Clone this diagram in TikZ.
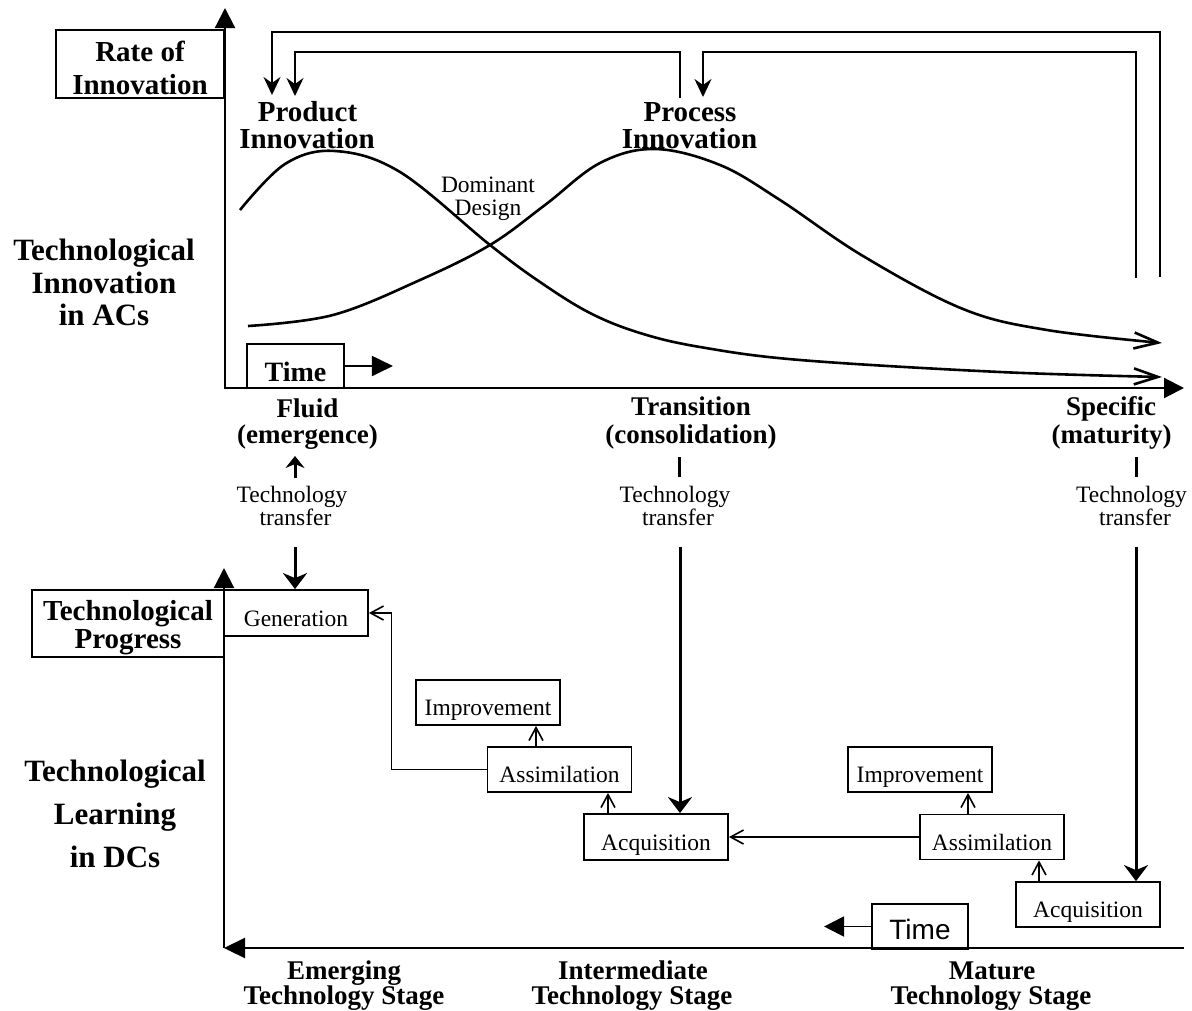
\documentclass[tikz,border=0pt]{standalone}
\usepackage{fontspec}
\setmainfont{Liberation Serif}
\newfontfamily\mysansfam{Liberation Sans}
\usetikzlibrary{arrows.meta}
\newcommand\mybig{\fontsize{29}{33}\selectfont\bfseries}
\newcommand\myleft{\fontsize{31}{33}\selectfont\bfseries}
\newcommand\mystage{\fontsize{27}{27}\selectfont\bfseries}
\newcommand\mysmall{\fontsize{23.5}{24}\selectfont}
\newcommand\mytimeA{\fontsize{28}{28}\selectfont\bfseries}
\newcommand\mytimeB{\mysansfam\fontsize{28}{28}\selectfont}
\begin{document}
\begin{tikzpicture}[x=1pt,y=-1pt,
  lab/.style={inner sep=0pt, anchor=base},
  boxed/.style={draw, line width=1.8pt, inner sep=0pt, minimum width=144pt, minimum height=45pt, text height=30pt, text depth=4pt, font=\mysmall},
  fb/.style={line width=1.9pt},
  thinc/.style={line width=1.6pt},
  axis/.style={line width=2.2pt},
  curve/.style={line width=2.6pt},
  tthick/.style={line width=3pt},
  tri/.tip={Triangle[length=20pt,width=20pt]},
  stl/.tip={Stealth[length=18pt,width=17pt,inset=6pt]},
  bigstl/.tip={Stealth[length=16pt,width=24pt,inset=5pt]},
  barb/.tip={Straight Barb[length=13pt,width=14pt]},
  cbarb/.tip={Straight Barb[length=24pt,width=16pt]}
]
\fill[white] (0,0) rectangle (1192,1010);
\useasboundingbox (0,0) rectangle (1192,1010);

% ---------- top axes ----------
\coordinate (taY) at (225,8);
\coordinate (ta0) at (225,388);
\coordinate (taX) at (1184,388);
\draw[axis, {tri}-{tri}] (taY) -- (ta0) -- (taX);

\node[draw, fb, minimum width=168pt, minimum height=68pt, inner sep=0pt] (rate) at (140,64) {};
\node[lab, font=\mybig] (rate1) at (140,61) {Rate of};
\node[lab, font=\mybig] (rate2) at (140,94) {Innovation};

\node[lab, font=\myleft] (tia) at (104,260) {Technological};
\node[lab, font=\myleft] (tib) at (104,293) {Innovation};
\node[lab, font=\myleft] (tic) at (104,325) {in ACs};

% feedback brackets
\coordinate (fa0) at (1160,277); \coordinate (fa1) at (1160,32);
\coordinate (fa2) at (272,32);   \coordinate (fa3) at (272,95);
\draw[fb, -{stl}] (fa0) -- (fa1) -- (fa2) -- (fa3);
\coordinate (fb0) at (680,98);  \coordinate (fb1) at (680,52);
\coordinate (fb2) at (295,52);  \coordinate (fb3) at (295,96);
\draw[fb, -{stl}] (fb0) -- (fb1) -- (fb2) -- (fb3);
\coordinate (fc0) at (1136,278); \coordinate (fc1) at (1136,52);
\coordinate (fc2) at (703,52);   \coordinate (fc3) at (703,97);
\draw[fb, -{stl}] (fc0) -- (fc1) -- (fc2) -- (fc3);

\node[lab, font=\mybig] (prod1) at (307.5,121) {Product};
\node[lab, font=\mybig] (prod2) at (307,148) {Innovation};
\node[lab, font=\mybig] (proc1) at (690,121) {Process};
\node[lab, font=\mybig] (proc2) at (689.5,148) {Innovation};

% curves
\draw[curve, -{cbarb}] plot[smooth, tension=0.6] coordinates {
 (240,210) (285,164) (335,151) (400,172) (490,245) (540,282)
 (590,313) (640,333) (700,347) (800,360) (1000,372) (1162,377)};
\draw[curve, -{cbarb}] plot[smooth, tension=0.6] coordinates {
 (248,326) (333,315) (420,280) (490,245) (545,205) (600,163)
 (655,149) (720,165) (780,200) (863,256) (963,309) (1047,330) (1162,343)};

\node[lab, font=\mysmall] (dom1) at (488,192) {Dominant};
\node[lab, font=\mysmall] (dom2) at (488,215) {Design};

% time box top
\node[draw, fb, minimum width=97pt, minimum height=44pt, inner sep=0pt, text height=32pt, text depth=2pt, font=\mytimeA] (timeA) at (295.5,366) {Time\hspace{7pt}};
\draw[fb, -{Triangle[length=21pt,width=20pt]}] (timeA.east) -- ++(48,0);

% stage labels
\node[lab, font=\mystage] (st1a) at (307.5,417) {Fluid};
\node[lab, font=\mystage] (st1b) at (307.5,443) {(emergence)};
\node[lab, font=\mystage] (st2a) at (691,415) {Transition};
\node[lab, font=\mystage] (st2b) at (691,443) {(consolidation)};
\node[lab, font=\mystage] (st3a) at (1111,415) {Specific};
\node[lab, font=\mystage] (st3b) at (1111.5,443) {(maturity)};

% technology transfer
\node[lab, font=\mysmall] (tt1a) at (292,502) {Technology};
\node[lab, font=\mysmall] (tt1b) at (295.5,525) {transfer};
\node[lab, font=\mysmall] (tt2a) at (675,502) {Technology};
\node[lab, font=\mysmall] (tt2b) at (678,525) {transfer};
\node[lab, font=\mysmall] (tt3a) at (1131.5,502) {Technology};
\node[lab, font=\mysmall] (tt3b) at (1135,525) {transfer};

\coordinate (up1s) at (295,478); \coordinate (up1e) at (295,456);
\draw[tthick, -{Stealth[length=12pt,width=19pt,inset=4pt]}] (up1s) -- (up1e);
\coordinate (tk2s) at (679,457); \coordinate (tk2e) at (679,477);
\draw[tthick] (tk2s) -- (tk2e);
\coordinate (tk3s) at (1136,457); \coordinate (tk3e) at (1136,477);
\draw[tthick] (tk3s) -- (tk3e);

% ---------- bottom part ----------
\coordinate (baY) at (224,568);
\coordinate (ba0) at (224,948);
\coordinate (baX) at (1184,948);
\draw[axis, -{tri}] (ba0) -- (baY);
\draw[axis, -{Triangle[length=21pt,width=20pt]}] (baX) -- (ba0);

\node[draw, fb, minimum width=192pt, minimum height=67pt, inner sep=0pt] (tp) at (128,623.5) {};
\node[lab, font=\mybig] (tp1) at (128,620) {Technological};
\node[lab, font=\mybig] (tp2) at (128,648) {Progress};

\node[lab, font=\myleft] (tla) at (115,781) {Technological};
\node[lab, font=\myleft] (tlb) at (115,824) {Learning};
\node[lab, font=\myleft] (tlc) at (115,867) {in DCs};

\node[boxed, minimum height=46pt] (gen) at (296,613) {Generation\hspace{14pt}};
\node[boxed] (impr1) at (488,702.5) {Improvement};
\node[boxed] (assim1) at (559.5,769.5) {Assimilation};
\node[boxed, minimum height=46pt] (acq1) at (656,837) {Acquisition};
\node[boxed] (impr2) at (920,769.5) {Improvement};
\node[boxed] (assim2) at (992,837) {Assimilation};
\node[boxed] (acq2) at (1088,904.5) {Acquisition};

\draw[thinc, -{barb}] ([xshift=-23.5pt]assim1.north) -- ([xshift=-23.5pt]assim1.north |- impr1.south);
\draw[thinc, -{barb}] ([xshift=-48pt]acq1.north) -- ([xshift=-48pt]acq1.north |- assim1.south);
\draw[thinc, -{barb}] (assim1.west) -- ++(-95,0) |- (gen.east);
\draw[thinc, -{barb}] (assim2.west) -- (acq1.east);
\draw[thinc, -{barb}] ([xshift=-24pt]assim2.north) -- ([xshift=-24pt]assim2.north |- impr2.south);
\draw[thinc, -{barb}] ([xshift=-49pt]acq2.north) -- ([xshift=-49pt]acq2.north |- assim2.south);

\coordinate (tr1) at (295,547);
\coordinate (tr2) at (680,547);
\coordinate (tr3) at (1136,547);
\draw[tthick, -{bigstl}] (tr1) -- (tr1 |- gen.north);
\draw[tthick, -{bigstl}] (tr2) -- (tr2 |- acq1.north);
\draw[tthick, -{bigstl}] (tr3) -- (tr3 |- acq2.north);

% time box bottom
\node[draw, fb, minimum width=96pt, minimum height=45pt, inner sep=0pt, text height=29pt, text depth=4pt, font=\mytimeB] (timeB) at (920,926.5) {Time\hspace{4pt}};
\draw[fb, -{tri}] (timeB.west) -- ++(-47,0);

\node[lab, font=\mystage] (bs1a) at (344,979) {Emerging};
\node[lab, font=\mystage] (bs1b) at (344,1004) {Technology Stage};
\node[lab, font=\mystage] (bs2a) at (633,979) {Intermediate};
\node[lab, font=\mystage] (bs2b) at (632,1004) {Technology Stage};
\node[lab, font=\mystage] (bs3a) at (992,979) {Mature};
\node[lab, font=\mystage] (bs3b) at (991,1004) {Technology Stage};
\end{tikzpicture}
\end{document}
